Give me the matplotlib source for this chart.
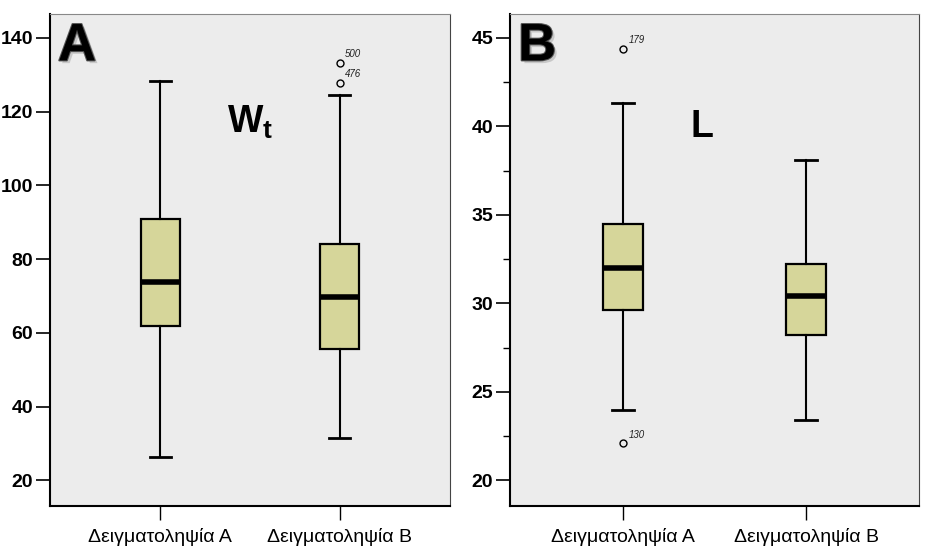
import matplotlib
matplotlib.use("Agg")
from matplotlib import pyplot as plt
from matplotlib import patheffects as pe
from matplotlib.ticker import MultipleLocator

plt.rcParams["font.family"] = ["Liberation Sans", "DejaVu Sans"]
plt.rcParams["mathtext.fontset"] = "custom"
plt.rcParams["mathtext.rm"] = "Liberation Sans"
plt.rcParams["mathtext.bf"] = "Liberation Sans:bold"

groups = ["Δειγματοληψία Α", "Δειγματοληψία Β"]

# panel A: Wt
wt_low = [26.3, 31.4]
wt_q1 = [61.8, 55.5]
wt_med = [73.8, 69.6]
wt_q3 = [90.8, 84.0]
wt_high = [128.3, 124.4]
wt_out = [[], [127.9, 133.2]]
wt_out_ids = [[], ["476", "500"]]

# panel B: L
l_low = [24.0, 23.4]
l_q1 = [29.6, 28.2]
l_med = [32.0, 30.4]
l_q3 = [34.5, 32.2]
l_high = [41.3, 38.1]
l_out = [[44.4, 22.1], []]
l_out_ids = [["179", "130"], []]

box_col = "#d6d69a"
bg_col = "#ececec"


def panel(ax, low, q1, med, q3, high, outs, ids, letter, label, label_pos, ylim, yticks, minor=None):
    stats = []
    for i in range(len(groups)):
        stats.append(dict(whislo=low[i], q1=q1[i], med=med[i], q3=q3[i],
                          whishi=high[i], fliers=outs[i]))
    ax.bxp(stats, positions=[1, 2], widths=0.22, patch_artist=True, capwidths=0.12,
           boxprops=dict(facecolor=box_col, edgecolor="black", linewidth=1.6),
           medianprops=dict(color="black", linewidth=4, solid_capstyle="butt"),
           whiskerprops=dict(color="black", linewidth=1.5),
           capprops=dict(color="black", linewidth=2),
           flierprops=dict(marker="o", markersize=5, markerfacecolor="none",
                           markeredgecolor="black", markeredgewidth=1))
    for i in range(len(groups)):
        for v, t in zip(outs[i], ids[i]):
            ax.annotate(t, (i + 1, v), xytext=(4, 4), textcoords="offset points",
                        fontsize=7, style="italic", color="#222222")
    ax.set_facecolor(bg_col)
    ax.set_xlim(0.385, 2.615)
    ax.set_ylim(*ylim)
    ax.set_yticks(yticks)
    if minor:
        ax.yaxis.set_minor_locator(MultipleLocator(minor))
        ax.tick_params(axis="y", which="minor", length=5, width=1)
    ax.set_xticks([1, 2])
    ax.set_xticklabels(groups, fontsize=14)
    ax.tick_params(axis="y", which="major", labelsize=14, length=10, width=1.2, pad=2)
    ax.tick_params(axis="x", length=10, width=1, pad=6)
    for lab in ax.get_yticklabels():
        lab.set_fontweight("bold")
    ax.spines["left"].set_linewidth(1.5)
    ax.spines["bottom"].set_linewidth(1.5)
    ax.spines["top"].set_color("#888888")
    ax.spines["right"].set_color("#444444")
    ax.text(0.02, 0.985, letter, transform=ax.transAxes, fontsize=38, fontweight="bold",
            va="top", ha="left", color="black",
            path_effects=[pe.withSimplePatchShadow(offset=(2, -2), shadow_rgbFace="#777777"),
                          pe.Stroke(linewidth=1.5, foreground="#555555"), pe.Normal()])
    ax.text(label_pos[0], label_pos[1], label, transform=ax.transAxes, fontsize=27,
            fontweight="bold", ha="center", va="center")


fig = plt.figure(figsize=(9.34, 5.6), dpi=100, facecolor="white")
axA = fig.add_axes([0.0535, 0.0964, 0.4283, 0.8786])
axB = fig.add_axes([0.546, 0.0964, 0.438, 0.8786])

panel(axA, wt_low, wt_q1, wt_med, wt_q3, wt_high, wt_out, wt_out_ids, "A",
      r"$\mathbf{W_t}$", (0.5, 0.78), (13, 146.5), [20, 40, 60, 80, 100, 120, 140])
panel(axB, l_low, l_q1, l_med, l_q3, l_high, l_out, l_out_ids, "B",
      "L", (0.47, 0.77), (18.55, 46.35), [20, 25, 30, 35, 40, 45], minor=2.5)

fig.savefig("out.png", dpi=100, facecolor="white")
